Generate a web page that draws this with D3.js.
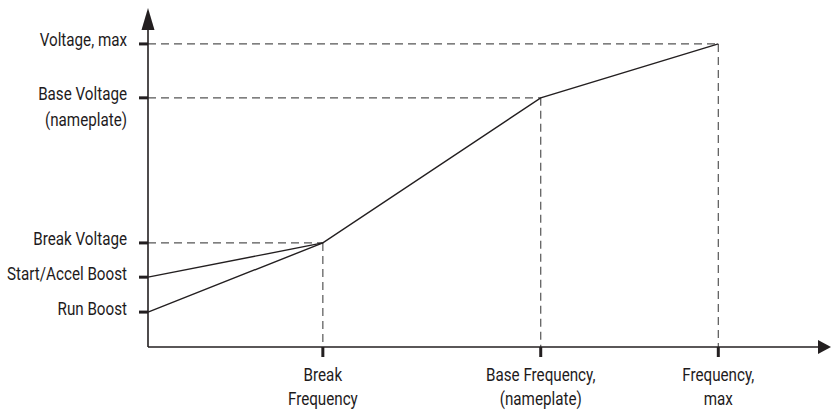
<!DOCTYPE html>
<html><head><meta charset="utf-8">
<script src="https://cdn.jsdelivr.net/npm/d3@7"></script>
<style>
body{margin:0;background:#fff;}
text{font-family:"Roboto","DejaVu Sans Condensed",sans-serif;fill:#1e1b1c;}
</style></head><body>
<svg id="c" width="831" height="410"></svg>
<script>
// Voltage levels (relative units, % of axis)
const voltageLabels = [["Voltage, max"], ["Base Voltage", "(nameplate)"], ["Break Voltage"], ["Start/Accel Boost"], ["Run Boost"]];
const voltageValues = [89.4, 73.5, 30.7, 20.6, 10.3];
// Frequency levels (relative units, % of axis)
const freqLabels = [["Break", "Frequency"], ["Base Frequency,", "(nameplate)"], ["Frequency,", "max"]];
const freqValues = [25.6, 57.5, 83.5];
// V/Hz curves: [freq, volt]
const runBoostCurve = [[0, 10.3], [25.6, 30.7], [57.5, 73.5], [83.5, 89.4]];
const startBoostCurve = [[0, 20.6], [25.6, 30.7]];
// Dashed guide points
const guidePoints = [[25.6, 30.7], [57.5, 73.5], [83.5, 89.4]];

const svg = d3.select("#c");
const x = d3.scaleLinear().domain([0, 100]).range([148, 831]);
const y = d3.scaleLinear().domain([0, 100]).range([347, 8]);
const ink = "#231f20";
const sx = 0.80, fs = 19;

// guides
guidePoints.forEach(([f, v]) => {
  svg.append("line").attr("x1", x(0)).attr("x2", x(f)).attr("y1", y(v)).attr("y2", y(v))
    .attr("stroke", "#555").attr("stroke-width", 1.2).attr("stroke-dasharray", "8,5");
  svg.append("line").attr("x1", x(f)).attr("x2", x(f)).attr("y1", y(v)).attr("y2", y(0))
    .attr("stroke", "#555").attr("stroke-width", 1.2).attr("stroke-dasharray", "8,5");
});

// axes
svg.append("line").attr("x1", x(0)).attr("x2", x(100) - 10).attr("y1", y(0)).attr("y2", y(0))
  .attr("stroke", ink).attr("stroke-width", 1.6);
svg.append("line").attr("x1", x(0)).attr("x2", x(0)).attr("y1", y(0)).attr("y2", y(100) + 10)
  .attr("stroke", ink).attr("stroke-width", 1.6);
// arrowheads
svg.append("path").attr("fill", ink)
  .attr("d", `M${x(0)},${y(100)} L${x(0) - 6.5},${y(100) + 22} L${x(0) + 6.5},${y(100) + 22} Z`);
svg.append("path").attr("fill", ink)
  .attr("d", `M${x(100)},${y(0)} L${x(100) - 13},${y(0) - 7} L${x(100) - 13},${y(0) + 7} Z`);

function label(px, py, lines, anchor, lh) {
  const g = svg.append("g").attr("transform", `translate(${px},${py}) scale(${sx},1)`);
  const t = g.append("text").attr("text-anchor", anchor).attr("font-size", fs);
  lines.forEach((s, j) => {
    t.append("tspan").attr("x", 0).attr("y", j * lh).text(s);
  });
}

// y ticks & labels
voltageValues.forEach((v, i) => {
  svg.append("line").attr("x1", x(0) - 9).attr("x2", x(0)).attr("y1", y(v)).attr("y2", y(v))
    .attr("stroke", ink).attr("stroke-width", 3);
  label(x(0) - 21, y(v) + 2.5, voltageLabels[i], "end", 26);
});

// x ticks & labels
freqValues.forEach((f, i) => {
  svg.append("line").attr("x1", x(f)).attr("x2", x(f)).attr("y1", y(0)).attr("y2", y(0) + 10)
    .attr("stroke", ink).attr("stroke-width", 3);
  label(x(f), y(0) + 34, freqLabels[i], "middle", 24);
});

// curves
const line = d3.line().x(d => x(d[0])).y(d => y(d[1]));
[runBoostCurve, startBoostCurve].forEach(c => {
  svg.append("path").attr("d", line(c)).attr("fill", "none").attr("stroke", ink).attr("stroke-width", 1.4);
});
</script>
</body></html>
